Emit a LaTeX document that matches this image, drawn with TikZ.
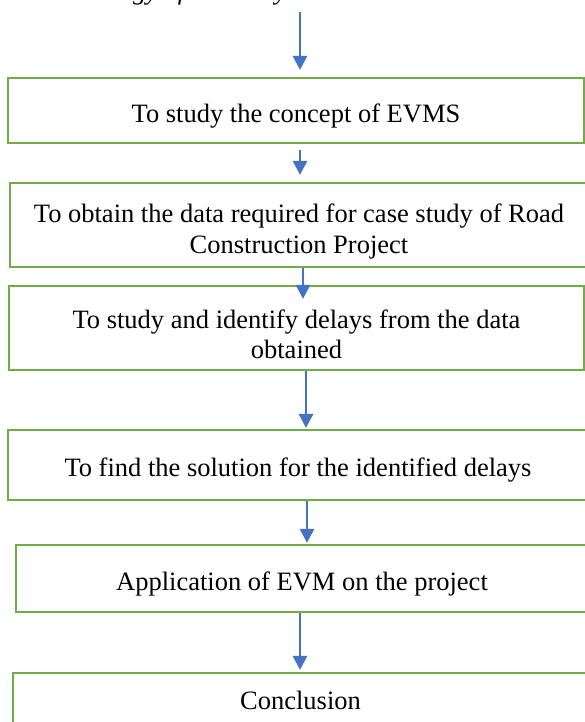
\documentclass[tikz,border=0pt]{standalone}
\usepackage{fontspec}
\setmainfont{Liberation Serif}
\usetikzlibrary{arrows.meta}
\definecolor{boxgreen}{HTML}{70AD47}
\definecolor{arrowblue}{HTML}{4472C4}
\tikzset{
  stepbox/.style={draw=boxgreen, line width=2.2pt, inner sep=0pt, align=center,
    text height=29pt, font=\fontsize{26.5}{30.5}\selectfont},
  twoline/.style={text height=62pt},
  flow/.style={draw=arrowblue, line width=2.8pt, -{Triangle[width=14pt,length=14pt]}}
}
\begin{document}
\begin{tikzpicture}[x=1pt,y=-1pt]
  \useasboundingbox (0,0) rectangle (585,722);
  % Title, cut off by the top edge
  \node[anchor=base west, inner sep=0pt, font=\fontsize{26.5}{30.5}\selectfont\itshape]
    (title) at (18,0) {Methodology of the study};
  \coordinate (start) at (300,12);
  % Draw boxes
  \node[stepbox, minimum width=576pt, minimum height=65pt] (b1) at (296,110.5)
    {To study the concept of EVMS};
  \node[stepbox, twoline, minimum width=578pt, minimum height=84pt] (b2) at (299,225)
    {To obtain the data required for case study of Road\\Construction Project};
  \node[stepbox, twoline, minimum width=575pt, minimum height=84pt] (b3) at (296.5,328)
    {To study and identify delays from the data\\obtained};
  \node[stepbox, minimum width=580pt, minimum height=70pt] (b4) at (298,465)
    {To find the solution for the identified delays};
  \node[stepbox, minimum width=572pt, minimum height=67pt] (b5) at (302,578.5)
    {Application of EVM on the project};
  \node[stepbox, text height=19pt, minimum width=575pt, minimum height=54pt] (b6) at (300.5,700)
    {Conclusion};
  % Draw arrows
  \draw[flow, shorten >=7pt] (start) -- (start |- b1.north);
  \foreach \a/\b/\dx/\st/\gap in {b1/b2/4/6/7, b2/b3/4/0/-14, b3/b4/9.5/0/1, b4/b5/9/0/1, b5/b6/-2/0/2}
    \draw[flow, shorten <=\st pt, shorten >=\gap pt]
      ([xshift=\dx pt]\a.south) -- ([xshift=\dx pt]\a.south |- \b.north);
\end{tikzpicture}
\end{document}
